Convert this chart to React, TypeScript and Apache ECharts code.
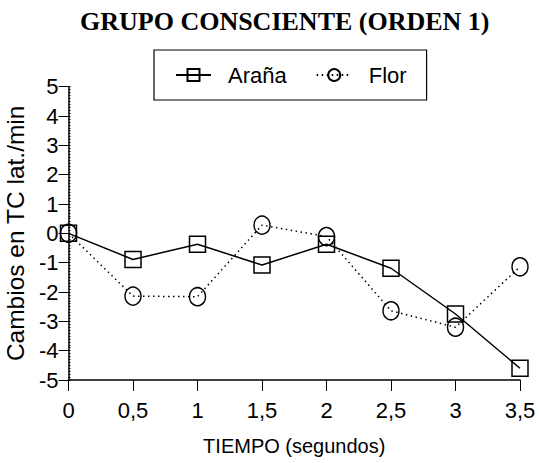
import React, { useEffect, useRef } from "react";
import * as echarts from "echarts";

const title = "GRUPO CONSCIENTE (ORDEN 1)";
const xName = "TIEMPO (segundos)";
const yName = "Cambios en TC lat./min";
const times = [0, 0.5, 1, 1.5, 2, 2.5, 3, 3.5];
const aranaValues = [0, -0.89, -0.37, -1.08, -0.37, -1.19, -2.75, -4.6];
const florValues = [0, -2.14, -2.16, 0.28, -0.11, -2.64, -3.2, -1.14];
const seriesNames = ["Araña", "Flor"];

const SANS = "'Liberation Sans', Arial, sans-serif";
const SERIF = "'Liberation Serif', 'Times New Roman', serif";

export default function App() {
  const ref = useRef<HTMLDivElement>(null);
  useEffect(() => {
    document.body.style.margin = "0";
    const chart = echarts.init(ref.current!, null, { renderer: "svg" });
    const pair = (vals: number[]) => times.map((t, i) => [t, vals[i]]);
    chart.setOption({
      animation: false,
      backgroundColor: "#fff",
      title: {
        text: title,
        left: 75,
        top: 3,
        textStyle: { fontFamily: SERIF, fontWeight: "bold", fontSize: 26, color: "#000" },
      },
      legend: {
        left: 154,
        top: 50,
        padding: [14, 20, 14, 21],
        borderColor: "#000",
        borderWidth: 1.2,
        itemWidth: 35,
        itemHeight: 15,
        itemGap: 29,
        textStyle: { fontFamily: SANS, fontSize: 22, color: "#000", padding: [0, 0, 0, 12] },
        data: seriesNames,
      },
      grid: {
        left: 68.5,
        right: 19,
        top: 86.7,
        bottom: 83,
        containLabel: false,
        outerBoundsMode: "none",
      },
      xAxis: {
        type: "value",
        min: 0,
        max: 3.5,
        interval: 0.5,
        name: xName,
        nameLocation: "middle",
        nameGap: 56,
        nameTextStyle: { fontFamily: SANS, fontSize: 20, color: "#000" },
        axisLine: { onZero: false, lineStyle: { color: "#000", width: 1.5 } },
        axisTick: { length: 11, lineStyle: { color: "#000", width: 1 } },
        axisLabel: {
          margin: 19,
          fontFamily: SANS,
          fontSize: 22,
          color: "#000",
          formatter: (v: number) => String(v).replace(".", ","),
        },
        splitLine: { show: false },
      },
      yAxis: [
        {
          type: "value",
          min: -5,
          max: 5,
          interval: 1,
          name: yName,
          nameLocation: "middle",
          nameGap: 38,
          nameTextStyle: { fontFamily: SANS, fontSize: 24.5, color: "#000" },
          axisLine: { onZero: false, lineStyle: { color: "#000", width: 1.5 } },
          axisTick: { length: 10, lineStyle: { color: "#000", width: 1 } },
          axisLabel: { margin: 10, fontFamily: SANS, fontSize: 22, color: "#000" },
          splitLine: { show: false },
        },
        {
          type: "value",
          min: -5,
          max: 5,
          interval: 0.1,
          position: "left",
          axisLine: { show: false },
          axisTick: { show: true, inside: true, length: 2, lineStyle: { color: "#000", width: 1 } },
          axisLabel: { show: false },
          splitLine: { show: false },
        },
      ],
      series: [
        {
          name: seriesNames[0],
          type: "line",
          data: pair(aranaValues),
          symbol: "rect",
          symbolSize: 16,
          itemStyle: { color: "none", borderColor: "#000", borderWidth: 1.5 },
          lineStyle: { color: "#000", width: 1.5, type: "solid" },
          z: 3,
        },
        {
          name: seriesNames[1],
          type: "line",
          data: pair(florValues),
          symbol: "circle",
          symbolSize: [16, 18],
          itemStyle: { color: "none", borderColor: "#000", borderWidth: 1.5 },
          lineStyle: { color: "#000", width: 1.5, type: [1.5, 3.5] },
          z: 2,
        },
      ],
    });
    return () => chart.dispose();
  }, []);
  return <div ref={ref} style={{ width: 539, height: 463 }} />;
}
